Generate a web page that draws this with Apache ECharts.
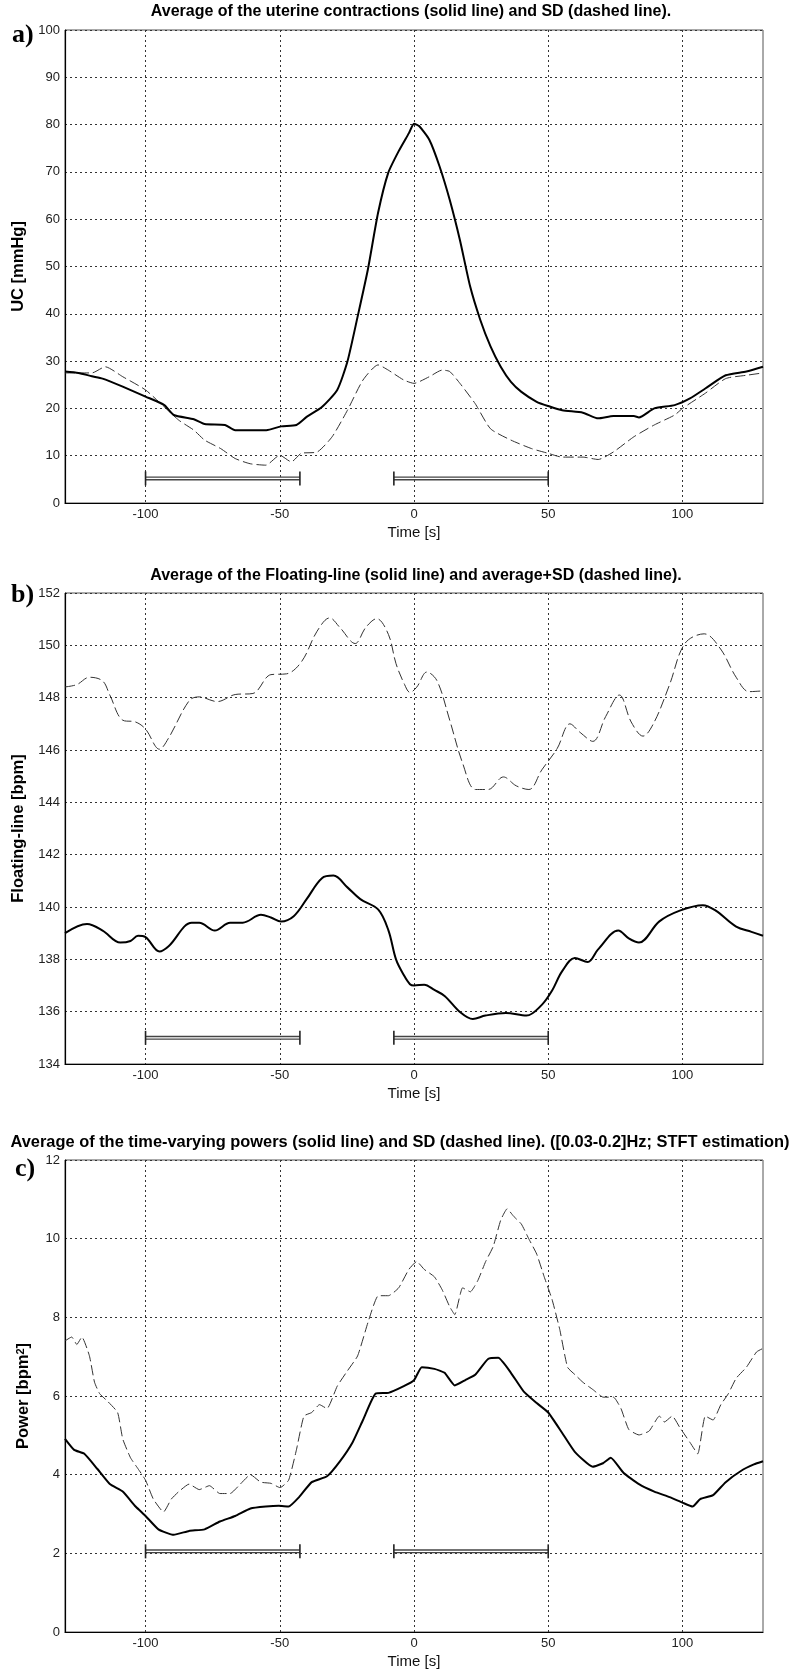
<!DOCTYPE html>
<html>
<head>
<meta charset="utf-8">
<script src="https://cdn.jsdelivr.net/npm/echarts@6/dist/echarts.min.js"></script>
<style>
  html, body { margin: 0; padding: 0; background: #fff; }
  #chart { width: 802px; height: 1672px; }
</style>
</head>
<body>
<div id="chart"></div>
<script>
// ---------- Tick labels ----------
const xTicks = [-100, -50, 0, 50, 100];

// ---------- Panel a: uterine contractions ----------
const ucMeanT = [-130,-125,-120,-116,-108.5,-100,-93,-89.5,-82,-78,-70.4,-66.6,-55,-49.5,-43.8,-40,-34.3,-28.6,-24.8,-21,-17.2,-13.4,-9.6,-5.7,-1.9,0,1.9,5.7,9.5,13.3,17.1,20.9,24.7,28.5,32.3,36.1,40,45.7,50,55.2,62.9,68.6,74.3,81.9,83.8,89.5,97.1,102.8,108.5,116.1,123.8,130];
const ucMeanV = [27.8,27.5,26.8,26.3,24.6,22.5,20.7,18.6,17.7,16.7,16.5,15.4,15.4,16.2,16.5,18.2,20.3,23.9,29.9,39.4,49.3,61.3,69.8,74.4,78.2,80.2,79.7,76.8,71.2,64.1,55.6,45.8,38.7,33.1,28.8,25.6,23.5,21.4,20.5,19.6,19.1,17.9,18.4,18.4,18.1,20.0,20.7,22.1,24.2,27.0,27.8,28.8];
const ucSdT = [-130,-120,-115,-108.5,-100,-93,-87.6,-82,-78,-72,-66.6,-61,-55.2,-50,-45.7,-42,-36,-30.5,-24.8,-19,-13.4,-9.6,-3.8,0,5.7,10.5,13.3,17.1,22.8,28.5,36.1,43.8,50,55.2,62.9,68.6,74.3,81.9,89.5,97.1,100,108.5,116.1,123.8,130];
const ucSdV = [27.5,27.5,28.8,26.7,23.9,20.3,17.5,15.4,13.3,11.5,9.4,8.3,8.0,10.1,8.7,10.5,10.8,14.0,19.6,26.0,29.2,28.1,26.0,25.3,26.7,28.1,27.8,25.3,21.0,15.7,13.3,11.5,10.5,9.7,9.7,9.2,10.8,14.0,16.5,18.6,20.0,23.2,26.3,27.0,27.5];

// ---------- Panel b: floating-line ----------
const flMeanT = [-130,-121.8,-116,-109.4,-105.6,-102.8,-100,-94.8,-91.4,-82.8,-80,-74.2,-68.5,-63.8,-57,-53.3,-49.5,-44.8,-40,-34.3,-30,-24.8,-20,-13.3,-9.5,-6.7,-3.8,-1.5,0,3.8,7.6,11.4,17.1,21.9,26.6,34.2,41.9,47.6,51.4,55.2,59.9,64.7,68.5,76.1,80,83.8,91.4,99,107.6,112.4,120,125.7,130];
const flMeanV = [139.0,139.35,139.1,138.64,138.7,138.9,138.85,138.3,138.5,139.4,139.4,139.1,139.4,139.4,139.7,139.6,139.45,139.65,140.3,141.1,141.2,140.75,140.3,139.9,139.1,138.0,137.4,137.05,137.0,137.03,136.83,136.6,135.99,135.72,135.85,135.95,135.85,136.26,136.8,137.55,138.05,137.9,138.37,139.1,138.8,138.64,139.45,139.86,140.07,139.86,139.25,139.05,138.9];
const flSdT = [-130,-125.6,-120.9,-116,-113.3,-108.5,-103.7,-100,-94.8,-91.4,-83.7,-80,-73.3,-66.6,-60,-53.3,-47.5,-41.8,-36.1,-31.4,-27.6,-21.9,-18,-13.9,-9.5,-6.7,-3.5,-1.5,1,4.8,8.6,13.3,18.1,22.9,27.6,33.3,38.1,42.8,47.6,53.3,58.1,61.9,66.6,71.4,76.5,80.9,85.3,89.5,95.2,100.9,108.1,114.2,120,124.8,130];
const flSdV = [148.41,148.5,148.78,148.64,148.1,147.14,147.07,146.8,146.03,146.46,147.89,148.03,147.85,148.12,148.16,148.88,148.91,149.39,150.54,151.05,150.68,150.07,150.68,151.02,150.41,149.3,148.5,148.2,148.4,148.98,148.64,147.14,145.5,144.49,144.49,144.97,144.63,144.49,145.24,146.05,147.0,146.67,146.33,147.28,148.1,147.07,146.53,147.07,148.5,150.07,150.44,149.86,148.78,148.23,148.26];

// ---------- Panel c: time-varying powers ----------
const pwMeanT = [-130,-126.6,-122.8,-118,-113.3,-108.5,-103.7,-100,-95.2,-89.5,-83.8,-78,-72.3,-66.6,-60.9,-55.2,-50.4,-46.7,-42.8,-38.1,-32.4,-27.6,-22.9,-19,-14.3,-9.5,-3.8,0,2.9,7.6,11.4,15.2,19,22.8,27.6,31.4,36.1,40.9,45.7,50,55.2,59.9,66.6,70.4,73.3,78,83.8,89.5,95.2,100,103.8,106.6,111.4,116.1,121.9,126.6,130];
const pwMeanV = [4.91,4.63,4.53,4.15,3.76,3.57,3.19,2.95,2.61,2.47,2.57,2.61,2.81,2.95,3.14,3.19,3.21,3.19,3.43,3.81,3.96,4.34,4.82,5.39,6.06,6.08,6.25,6.40,6.73,6.69,6.59,6.27,6.40,6.54,6.94,6.97,6.59,6.11,5.82,5.58,5.06,4.58,4.20,4.29,4.43,4.05,3.76,3.57,3.43,3.29,3.19,3.38,3.48,3.81,4.10,4.26,4.34];
const pwSdT = [-130,-127.5,-125.6,-123.7,-120.9,-119,-117.1,-114.2,-110.4,-108.5,-105.6,-102.8,-100,-97.1,-93.3,-90.4,-87.6,-83.8,-80,-76.2,-72.3,-68.5,-64.7,-60.9,-57.1,-53.3,-49.9,-46.7,-43.8,-41,-38.1,-35.2,-32.4,-28.6,-24.8,-21,-17.1,-13.3,-9.5,-5.7,-1.9,1,3.8,7.6,10.5,13.3,15.2,18.1,21,23.8,26.7,29.5,32.3,34.7,37.1,40,42.8,45.7,48.5,51.4,54.3,57.2,60,62.9,66.7,70.5,74.3,77.1,80,83.8,87.6,91.4,93.3,96.2,99,102.8,105.7,108.5,111.4,114.3,117.1,120,123.8,127.6,130];
const pwSdV = [7.40,7.50,7.31,7.50,7.02,6.35,6.06,5.87,5.58,4.91,4.43,4.15,3.86,3.38,3.05,3.38,3.57,3.76,3.62,3.72,3.52,3.52,3.76,4.00,3.81,3.78,3.67,3.86,4.63,5.49,5.58,5.78,5.68,6.25,6.64,7.02,7.88,8.55,8.55,8.75,9.22,9.42,9.22,9.03,8.70,8.27,8.07,8.75,8.65,8.94,9.42,9.80,10.47,10.76,10.57,10.37,9.99,9.61,9.03,8.46,7.69,6.73,6.54,6.35,6.16,5.97,5.97,5.68,5.15,5.01,5.11,5.49,5.34,5.49,5.20,4.82,4.53,5.49,5.39,5.78,6.06,6.45,6.73,7.12,7.21];

// ---------- Interval bars (time windows) ----------
const barWindows = [[-100, -42.5], [-7.5, 50]];
const barLevels = [5.2, 135, 2.05];

// ---------- Texts ----------
const titles = [
  'Average of the uterine contractions (solid line) and SD (dashed line).',
  'Average of the Floating-line (solid line) and average+SD (dashed line).',
  'Average of the time-varying powers (solid line) and SD (dashed line). ([0.03-0.2]Hz; STFT estimation)'
];
const yNames = ['UC [mmHg]', 'Floating-line [bpm]', 'Power [bpm{sup|2}]'];
const panelLetters = ['a)', 'b)', 'c)'];
const yRanges = [[0, 100, 10], [134, 152, 2], [0, 12, 2]];

// ---------- Layout ----------
const gridTops = [30, 593, 1160];
const gridHeights = [473, 471, 472];
const titleTops = [4, 568, 1134];
const titleCenters = [411, 416, 400];
const titleSizes = [16, 16, 16.4];
const letterTops = [22, 582, 1156];
const letterLefts = [12, 11, 15];

const zip = (t, v) => t.map((x, i) => [x, v[i]]);
const narrow = '"Liberation Sans Narrow", "Liberation Sans", Arial, sans-serif';
const sans = '"Liberation Sans", Arial, sans-serif';

const grids = [], xAxes = [], yAxes = [], series = [];
for (let i = 0; i < 3; i++) {
  grids.push({ left: 65, width: 698, top: gridTops[i], height: gridHeights[i],
    show: true, borderColor: '#555', borderWidth: 1, backgroundColor: 'transparent' });
  xAxes.push({
    type: 'value', gridIndex: i, min: -130, max: 130,
    axisLine: { show: true, onZero: false, lineStyle: { color: '#000', width: 1.2 } },
    axisTick: { show: false, customValues: xTicks },
    axisLabel: { customValues: xTicks, color: '#222', fontSize: 13, fontFamily: narrow, margin: 5 },
    splitLine: { show: true, lineStyle: { color: '#333', width: 1, type: [2, 3] } },
    name: 'Time [s]', nameLocation: 'middle', nameGap: 22,
    nameTextStyle: { color: '#111', fontSize: 15, fontFamily: narrow }
  });
  const r = yRanges[i];
  yAxes.push({
    type: 'value', gridIndex: i, min: r[0], max: r[1], interval: r[2],
    axisLine: { show: true, onZero: false, lineStyle: { color: '#000', width: 1.2 } },
    axisTick: { show: false },
    axisLabel: { color: '#222', fontSize: 13, fontFamily: narrow, margin: 5 },
    splitLine: { show: true, lineStyle: { color: '#333', width: 1, type: [2, 3] } },
    name: yNames[i], nameLocation: 'middle', nameGap: 33,
    nameTextStyle: { color: '#000', fontSize: 16.5, fontWeight: 'bold', fontFamily: sans,
      rich: { sup: { fontSize: 11, fontWeight: 'bold', fontFamily: sans, verticalAlign: 'top', lineHeight: 17 } } }
  });
}

const panels = [
  [ucMeanT, ucMeanV, ucSdT, ucSdV, 0.2],
  [flMeanT, flMeanV, flSdT, flSdV, 0.35],
  [pwMeanT, pwMeanV, pwSdT, pwSdV, 0.15]
];
panels.forEach((p, i) => {
  series.push({ type: 'line', xAxisIndex: i, yAxisIndex: i, data: zip(p[2], p[3]), showSymbol: false,
    smooth: p[4], lineStyle: { color: '#333', width: 1, type: [10, 4] }, z: 3, silent: true });
  series.push({ type: 'line', xAxisIndex: i, yAxisIndex: i, data: zip(p[0], p[1]), showSymbol: false,
    smooth: p[4], lineStyle: { color: '#000', width: 2 }, z: 4, silent: true });
  barWindows.forEach(w => {
    const d = [[w[0], barLevels[i]], [w[1], barLevels[i]]];
    series.push({ type: 'line', xAxisIndex: i, yAxisIndex: i, data: d, showSymbol: false,
      lineStyle: { color: '#444', width: 4 }, z: 5, silent: true });
    series.push({ type: 'line', xAxisIndex: i, yAxisIndex: i, data: d, showSymbol: false,
      lineStyle: { color: '#fff', width: 1.2 }, z: 6, silent: true });
    series.push({ type: 'line', xAxisIndex: i, yAxisIndex: i, data: d, showSymbol: true, symbol: 'rect',
      symbolSize: [1.6, 14], itemStyle: { color: '#222' }, lineStyle: { opacity: 0 }, z: 7, silent: true });
  });
});

const chart = echarts.init(document.getElementById('chart'), null, { renderer: 'canvas' });
chart.setOption({
  animation: false,
  backgroundColor: '#fff',
  title: titles.map((t, i) => ({ text: t, left: titleCenters[i], top: titleTops[i], textAlign: 'center', padding: 0,
    textStyle: { fontSize: titleSizes[i], fontWeight: 'bold', color: '#000', fontFamily: sans } })),
  graphic: panelLetters.map((t, i) => ({ type: 'text', left: letterLefts[i], top: letterTops[i],
    style: { text: t, fill: '#000', font: 'bold 26px "Liberation Serif", "Times New Roman", serif' } })),
  grid: grids, xAxis: xAxes, yAxis: yAxes, series: series
});
</script>
</body>
</html>
